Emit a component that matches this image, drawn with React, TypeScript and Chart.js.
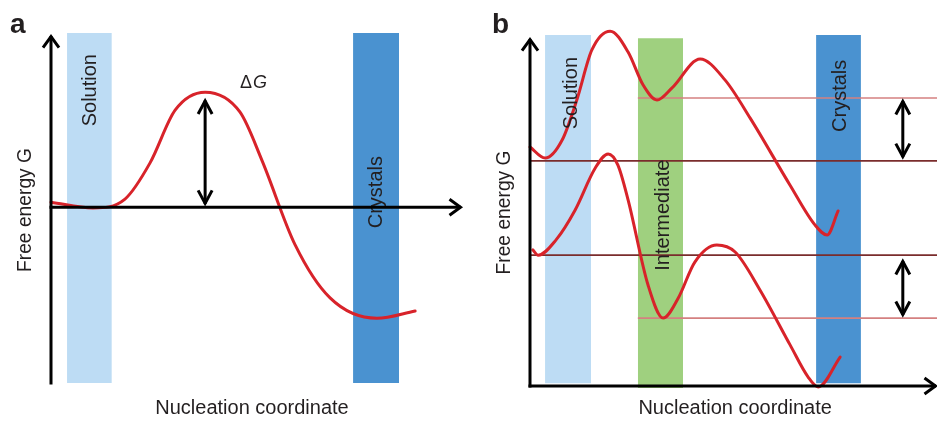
import React, { useEffect, useRef } from "react";
import { Chart, registerables } from "chart.js";

Chart.register(...registerables);

// ---------------- Data: panel a ----------------
const aCurveX = [0, 1.02, 1.8, 2.41, 3.02, 3.75, 4.6, 5.13, 5.94, 6.79, 7.93, 8.86];
const aCurveY = [0.15, -0.02, 0.24, 1.29, 2.82, 3.34, 2.76, 1.37, -1.09, -2.63, -3.22, -3.01];
const aBandNames = ["Solution", "Crystals"];
const aBandFrom = [0.39, 7.35];
const aBandTo = [1.48, 8.47];
const aBandTop = [5.06, 5.06];
const aBandBottom = [-5.1, -5.1];
const aBandLabelX = [0.95, 7.91];
const aBandLabelY = [3.4, 0.44];
const aArrowX = [3.75];
const aArrowLow = [0.07];
const aArrowHigh = [3.13];
const aDeltaLabelX = 4.6;
const aDeltaLabelY = 3.61;

// ---------------- Data: panel b ----------------
const bUpperX = [0, 0.37, 0.79, 1.15, 1.52, 1.97, 2.41, 2.78, 3.12, 3.49, 4.18, 4.79, 5.41, 6.39, 7.0, 7.3, 7.57];
const bUpperY = [6.87, 6.55, 7.07, 8.22, 9.66, 10.2, 9.6, 8.65, 8.22, 8.57, 9.4, 8.8, 7.7, 5.77, 4.63, 4.34, 5.03];
const bLowerX = [0.07, 0.2, 0.64, 1.11, 1.6, 1.92, 2.16, 2.41, 2.9, 3.27, 3.64, 4.05, 4.59, 5.04, 5.65, 6.39, 6.83, 7.08, 7.62];
const bLowerY = [3.91, 3.76, 4.2, 5.06, 6.26, 6.67, 6.35, 5.35, 2.9, 1.95, 2.52, 3.56, 4.05, 3.85, 2.76, 1.18, 0.26, -0.03, 0.83];
const bLevelY = [8.28, 6.47, 3.76, 1.95];
const bLevelFrom = [2.65, 0, 0, 2.65];
const bLevelTo = [10, 10, 10, 10];
const bBandNames = ["Solution", "Intermediate", "Crystals"];
const bBandFrom = [0.37, 2.65, 7.03];
const bBandTo = [1.5, 3.76, 8.13];
const bBandTop = [10.09, 10.0, 10.09];
const bBandBottom = [0.08, -0.06, 0.08];
const bBandLabelX = [1.02, 3.27, 7.62];
const bBandLabelY = [8.42, 4.91, 8.34];
const bArrowX = [9.16, 9.16];
const bArrowLow = [6.55, 2.01];
const bArrowHigh = [8.22, 3.62];

// ---------------- Styles ----------------
const FONT = '"Liberation Sans", Arial, Helvetica, sans-serif';
const TEXT = "#231f20";
const RED = "#d8232a";
const BAND_COLORS: Record<string, string> = {
  Solution: "#bddcf4",
  Crystals: "#4a92d0",
  Intermediate: "#9fd07f",
};
const LEVEL_COLORS = ["#d48080", "#7a2c2c", "#7a2c2c", "#d48080"];

function head(ctx: CanvasRenderingContext2D, x: number, y: number, dx: number, dy: number, len: number, half: number) {
  const bx = x - dx * len;
  const by = y - dy * len;
  const px = -dy;
  const py = dx;
  ctx.beginPath();
  ctx.moveTo(bx + px * half, by + py * half);
  ctx.lineTo(x, y);
  ctx.lineTo(bx - px * half, by - py * half);
  ctx.stroke();
}

type Cfg = {
  letter: string;
  xAxisY: number;
  yAxisFrom: number;
  yAxisTo: number;
  bandNames: string[];
  bandLabelX: number[];
  bandLabelY: number[];
  arrowX: number[];
  arrowLow: number[];
  arrowHigh: number[];
  titleX: number;
  yTitleOffset: number;
  xTitleOffset: number;
  delta?: { x: number; y: number };
};

function makeDecor(cfg: Cfg) {
  return {
    id: "decor" + cfg.letter,
    afterDatasetsDraw(chart: any) {
      const ctx: CanvasRenderingContext2D = chart.ctx;
      const xs = chart.scales.x;
      const ys = chart.scales.y;
      const area = chart.chartArea;
      ctx.save();
      // band labels
      ctx.fillStyle = TEXT;
      ctx.font = `20px ${FONT}`;
      ctx.textAlign = "center";
      ctx.textBaseline = "middle";
      cfg.bandNames.forEach((n, i) => {
        ctx.save();
        ctx.translate(xs.getPixelForValue(cfg.bandLabelX[i]), ys.getPixelForValue(cfg.bandLabelY[i]));
        ctx.rotate(-Math.PI / 2);
        ctx.fillText(n, 0, 0);
        ctx.restore();
      });
      // axes
      ctx.strokeStyle = "#000";
      ctx.lineWidth = 3;
      ctx.lineJoin = "miter";
      const ox = xs.getPixelForValue(0);
      const oy = ys.getPixelForValue(cfg.xAxisY);
      const xEnd = xs.getPixelForValue(xs.max);
      const yTop = ys.getPixelForValue(cfg.yAxisTo);
      const yBot = ys.getPixelForValue(cfg.yAxisFrom);
      ctx.beginPath();
      ctx.moveTo(ox, yBot + 1.5);
      ctx.lineTo(ox, yTop + 1);
      ctx.stroke();
      ctx.beginPath();
      ctx.moveTo(ox - 1.5, oy);
      ctx.lineTo(xEnd - 1, oy);
      ctx.stroke();
      head(ctx, ox, yTop + 1.5, 0, -1, 11, 8);
      head(ctx, xEnd - 1.5, oy, 1, 0, 11, 8);
      // double arrows
      cfg.arrowX.forEach((ax, i) => {
        const px = xs.getPixelForValue(ax);
        const lo = ys.getPixelForValue(cfg.arrowLow[i]);
        const hi = ys.getPixelForValue(cfg.arrowHigh[i]);
        ctx.beginPath();
        ctx.moveTo(px, lo - 1);
        ctx.lineTo(px, hi + 1);
        ctx.stroke();
        head(ctx, px, hi + 1.5, 0, -1, 13, 7);
        head(ctx, px, lo - 1.5, 0, 1, 13, 7);
      });
      // delta G label
      if (cfg.delta) {
        const dx = xs.getPixelForValue(cfg.delta.x);
        const dy = ys.getPixelForValue(cfg.delta.y);
        ctx.textAlign = "left";
        ctx.textBaseline = "middle";
        ctx.font = `18px ${FONT}`;
        ctx.fillText("\u0394", dx, dy);
        const w = ctx.measureText("\u0394").width;
        ctx.font = `italic 18px ${FONT}`;
        ctx.fillText("G", dx + w + 1, dy);
      }
      // axis titles
      ctx.textAlign = "center";
      ctx.textBaseline = "middle";
      ctx.font = `20px ${FONT}`;
      ctx.fillText("Nucleation coordinate", xs.getPixelForValue(cfg.titleX), area.bottom + cfg.xTitleOffset);
      ctx.save();
      ctx.translate(area.left - 26, (area.top + area.bottom) / 2 + cfg.yTitleOffset);
      ctx.rotate(-Math.PI / 2);
      ctx.fillText("Free energy G", 0, 0, 124);
      ctx.restore();
      // panel letter
      ctx.textAlign = "left";
      ctx.textBaseline = "alphabetic";
      ctx.font = `bold 28px ${FONT}`;
      ctx.fillText(cfg.letter, cfg.letter === "a" ? 10 : 22, 33);
      ctx.restore();
    },
  };
}

function pts(xs: number[], ys: number[]) {
  return xs.map((x, i) => ({ x, y: ys[i] }));
}

function bandDatasets(names: string[], from: number[], to: number[], top: number[], bottom: number[]) {
  return names.map((n, i) => ({
    label: n,
    data: [
      { x: from[i], y: top[i] },
      { x: to[i], y: top[i] },
    ],
    borderWidth: 0,
    borderColor: "transparent",
    backgroundColor: BAND_COLORS[n],
    fill: { value: bottom[i] },
    pointRadius: 0,
    order: 3,
    clip: false,
  }));
}

function curveDataset(xs: number[], ys: number[]) {
  return {
    data: pts(xs, ys),
    borderColor: RED,
    borderWidth: 3,
    pointRadius: 0,
    fill: false,
    cubicInterpolationMode: "monotone",
    capBezierPoints: false,
    borderCapStyle: "round",
    borderJoinStyle: "round",
    order: 0,
    clip: false,
  };
}

function PanelChart(props: { config: any; width: number; left: number }) {
  const ref = useRef<HTMLCanvasElement | null>(null);
  useEffect(() => {
    if (!ref.current) return;
    const chart = new Chart(ref.current, props.config);
    return () => chart.destroy();
  }, []);
  return (
    <canvas
      ref={ref}
      width={props.width}
      height={423}
      style={{ position: "absolute", left: props.left, top: 0, width: props.width, height: 423 }}
    />
  );
}

const baseOptions = (xMin: number, xMax: number, yMin: number, yMax: number, padding: any) => ({
  responsive: false,
  animation: false,
  devicePixelRatio: 1,
  layout: { padding },
  plugins: { legend: { display: false }, tooltip: { enabled: false } },
  events: [],
  scales: {
    x: { type: "linear", min: xMin, max: xMax, display: false },
    y: { type: "linear", min: yMin, max: yMax, display: false },
  },
});

const configA = {
  type: "line",
  data: {
    datasets: [
      curveDataset(aCurveX, aCurveY),
      ...bandDatasets(aBandNames, aBandFrom, aBandTo, aBandTop, aBandBottom),
    ],
  },
  options: baseOptions(0, 10, -5.1, 5.06, { left: 51, right: 8, top: 33, bottom: 40 }),
  plugins: [
    makeDecor({
      letter: "a",
      xAxisY: 0,
      yAxisFrom: -5.1,
      yAxisTo: 5.0,
      bandNames: aBandNames,
      bandLabelX: aBandLabelX,
      bandLabelY: aBandLabelY,
      arrowX: aArrowX,
      arrowLow: aArrowLow,
      arrowHigh: aArrowHigh,
      titleX: 4.89,
      yTitleOffset: 2,
      xTitleOffset: 25,
      delta: { x: aDeltaLabelX, y: aDeltaLabelY },
    }),
  ],
};

const configB = {
  type: "line",
  data: {
    datasets: [
      curveDataset(bUpperX, bUpperY),
      curveDataset(bLowerX, bLowerY),
      ...bLevelY.map((y, i) => ({
        data: [
          { x: bLevelFrom[i], y },
          { x: bLevelTo[i], y },
        ],
        borderColor: LEVEL_COLORS[i],
        borderWidth: 1.6,
        pointRadius: 0,
        fill: false,
        order: 1,
        clip: false,
      })),
      ...bandDatasets(bBandNames, bBandFrom, bBandTo, bBandTop, bBandBottom),
    ],
  },
  options: baseOptions(0, 10, -0.06, 10.09, { left: 60, right: 0, top: 35, bottom: 35 }),
  plugins: [
    makeDecor({
      letter: "b",
      xAxisY: 0,
      yAxisFrom: 0,
      yAxisTo: 10.0,
      bandNames: bBandNames,
      bandLabelX: bBandLabelX,
      bandLabelY: bBandLabelY,
      arrowX: bArrowX,
      arrowLow: bArrowLow,
      arrowHigh: bArrowHigh,
      titleX: 5.04,
      yTitleOffset: 1,
      xTitleOffset: 20,
    }),
  ],
};

export default function App() {
  return (
    <div style={{ position: "absolute", left: 0, top: 0, width: 937, height: 423, background: "#fff" }}>
      <PanelChart config={configA} width={470} left={0} />
      <PanelChart config={configB} width={467} left={470} />
    </div>
  );
}
